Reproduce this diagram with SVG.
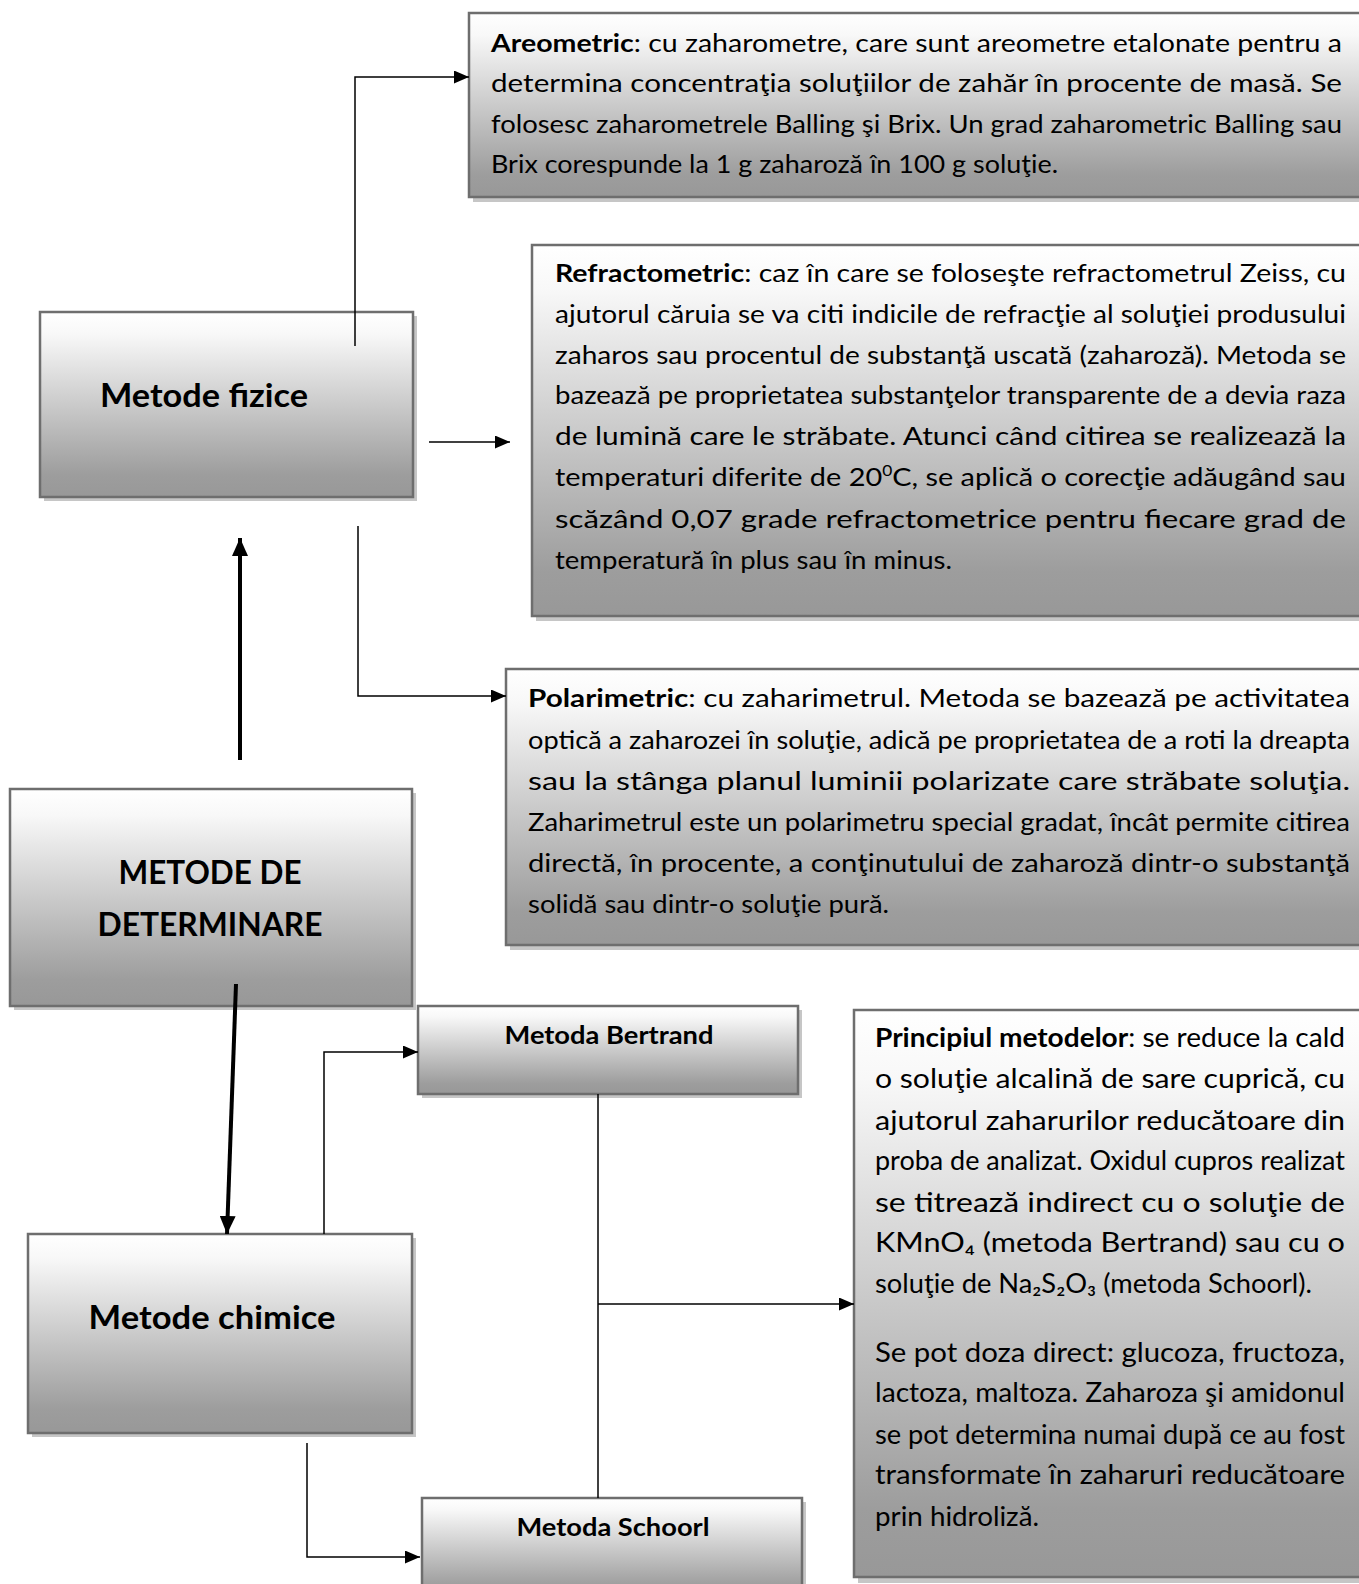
<svg xmlns="http://www.w3.org/2000/svg" width="1359" height="1584" viewBox="0 0 1359 1584">
<defs>
<linearGradient id="g" x1="0" y1="0" x2="0" y2="1">
<stop offset="0" stop-color="#ffffff"/>
<stop offset="0.12" stop-color="#f8f8f8"/>
<stop offset="0.88" stop-color="#9d9d9d"/>
<stop offset="1" stop-color="#989898"/>
</linearGradient>
<marker id="a" viewBox="0 0 15 13" refX="15" refY="6.5" markerWidth="15" markerHeight="13" markerUnits="userSpaceOnUse" orient="auto">
<path d="M0,0 L15,6.5 L0,13 z" fill="#000"/>
</marker>
<marker id="ab" viewBox="0 0 18 16" refX="18" refY="8" markerWidth="18" markerHeight="16" markerUnits="userSpaceOnUse" orient="auto">
<path d="M0,0 L18,8 L0,16 z" fill="#000"/>
</marker>
</defs>
<style>
.sh{fill:#c6c6c6}
.bx{fill:url(#g);stroke:#6e6e6e;stroke-width:2.5}
.t{font-family:Lato,"Open Sans","Liberation Sans",sans-serif;font-size:25px;fill:#000}
.p{font-family:Lato,"Open Sans","Liberation Sans",sans-serif;font-size:26px;fill:#000}
.h{font-family:Lato,"Open Sans","Liberation Sans",sans-serif;font-weight:bold;fill:#000;text-anchor:middle}
.b{font-weight:bold}
.c{fill:none;stroke:#000;stroke-width:1.5}
.ct{fill:none;stroke:#000;stroke-width:4}
</style>
<rect width="1359" height="1584" fill="#fff"/>

<g id="areometric">
<rect class="sh" x="473" y="18" width="896" height="184"/>
<rect class="bx" x="469" y="13" width="896" height="184"/>
<text class="t" x="491" y="52" textLength="851" lengthAdjust="spacingAndGlyphs"><tspan class="b">Areometric</tspan>: cu zaharometre, care sunt areometre etalonate pentru a</text>
<text class="t" x="491" y="92" textLength="851" lengthAdjust="spacingAndGlyphs">determina concentraţia  soluţiilor de zahăr în procente de masă. Se</text>
<text class="t" x="491" y="133" textLength="851" lengthAdjust="spacingAndGlyphs">folosesc zaharometrele Balling şi Brix. Un grad zaharometric  Balling sau</text>
<text class="t" x="491" y="173" textLength="567" lengthAdjust="spacingAndGlyphs">Brix corespunde la 1 g zaharoză în 100 g soluţie.</text>
</g>

<g id="refractometric">
<rect class="sh" x="536" y="250" width="833" height="371"/>
<rect class="bx" x="532" y="245" width="833" height="371"/>
<text class="t" x="555" y="282" textLength="791" lengthAdjust="spacingAndGlyphs"><tspan class="b">Refractometric</tspan>: caz în care se foloseşte refractometrul Zeiss, cu</text>
<text class="t" x="555" y="323" textLength="791" lengthAdjust="spacingAndGlyphs">ajutorul căruia se va citi indicile de refracţie al soluţiei produsului</text>
<text class="t" x="555" y="364" textLength="791" lengthAdjust="spacingAndGlyphs">zaharos sau procentul de substanţă uscată (zaharoză). Metoda se</text>
<text class="t" x="555" y="404" textLength="791" lengthAdjust="spacingAndGlyphs">bazează pe proprietatea substanţelor transparente de a devia raza</text>
<text class="t" x="555" y="445" textLength="791" lengthAdjust="spacingAndGlyphs">de lumină care le străbate. Atunci când citirea se realizează la</text>
<text class="t" x="555" y="486" textLength="791" lengthAdjust="spacingAndGlyphs">temperaturi diferite de 20<tspan font-size="15" dy="-10">0</tspan><tspan dy="10">C, se aplică o corecţie adăugând sau</tspan></text>
<text class="t" x="555" y="528" textLength="791" lengthAdjust="spacingAndGlyphs">scăzând 0,07 grade refractometrice pentru fiecare grad de</text>
<text class="t" x="555" y="569" textLength="397" lengthAdjust="spacingAndGlyphs">temperatură în plus sau în minus.</text>
</g>

<g id="polarimetric">
<rect class="sh" x="510" y="674" width="859" height="276"/>
<rect class="bx" x="506" y="669" width="859" height="276"/>
<text class="t" x="528" y="707" textLength="822" lengthAdjust="spacingAndGlyphs"><tspan class="b">Polarimetric</tspan>: cu zaharimetrul. Metoda se bazează pe activitatea</text>
<text class="t" x="528" y="749" textLength="822" lengthAdjust="spacingAndGlyphs">optică a zaharozei în soluţie, adică pe proprietatea de a roti la dreapta</text>
<text class="t" x="528" y="790" textLength="822" lengthAdjust="spacingAndGlyphs">sau la stânga planul luminii polarizate care străbate soluţia.</text>
<text class="t" x="528" y="831" textLength="822" lengthAdjust="spacingAndGlyphs">Zaharimetrul este un polarimetru special gradat, încât permite citirea</text>
<text class="t" x="528" y="872" textLength="822" lengthAdjust="spacingAndGlyphs">directă, în procente, a conţinutului de zaharoză dintr-o substanţă</text>
<text class="t" x="528" y="913" textLength="361" lengthAdjust="spacingAndGlyphs">solidă sau dintr-o soluţie pură.</text>
</g>

<g id="metode-fizice">
<rect class="sh" x="44" y="316" width="373" height="185"/>
<rect class="bx" x="40" y="312" width="373" height="185"/>
<text class="h" x="204" y="407" font-size="32" textLength="208" lengthAdjust="spacingAndGlyphs">Metode fizice</text>
</g>

<g id="metode-determinare">
<rect class="sh" x="14" y="793" width="402" height="217"/>
<rect class="bx" x="10" y="789" width="402" height="217"/>
<text class="h" x="210" y="884" font-size="32" textLength="183" lengthAdjust="spacingAndGlyphs">METODE DE</text>
<text class="h" x="210" y="936" font-size="32" textLength="225" lengthAdjust="spacingAndGlyphs">DETERMINARE</text>
</g>

<g id="metode-chimice">
<rect class="sh" x="32" y="1238" width="384" height="199"/>
<rect class="bx" x="28" y="1234" width="384" height="199"/>
<text class="h" x="212" y="1329" font-size="32" textLength="247" lengthAdjust="spacingAndGlyphs">Metode chimice</text>
</g>

<g id="metoda-bertrand">
<rect class="sh" x="422" y="1010" width="380" height="88"/>
<rect class="bx" x="418" y="1006" width="380" height="88"/>
<text class="h" x="609" y="1044" font-size="25" textLength="209" lengthAdjust="spacingAndGlyphs">Metoda Bertrand</text>
</g>

<g id="metoda-schoorl">
<rect class="sh" x="426" y="1502" width="380" height="100"/>
<rect class="bx" x="422" y="1498" width="380" height="100"/>
<text class="h" x="613" y="1536" font-size="25" textLength="193" lengthAdjust="spacingAndGlyphs">Metoda Schoorl</text>
</g>

<g id="principiul">
<rect class="sh" x="858" y="1015" width="511" height="568"/>
<rect class="bx" x="854" y="1010" width="511" height="567"/>
<text class="p" x="875" y="1047" textLength="470" lengthAdjust="spacingAndGlyphs"><tspan class="b">Principiul metodelor</tspan>: se reduce la cald</text>
<text class="p" x="875" y="1088" textLength="470" lengthAdjust="spacingAndGlyphs">o soluţie alcalină de sare cuprică, cu</text>
<text class="p" x="875" y="1130" textLength="470" lengthAdjust="spacingAndGlyphs">ajutorul zaharurilor reducătoare din</text>
<text class="p" x="875" y="1170" textLength="470" lengthAdjust="spacingAndGlyphs">proba de analizat. Oxidul cupros realizat</text>
<text class="p" x="875" y="1212" textLength="470" lengthAdjust="spacingAndGlyphs">se titrează indirect cu o soluţie de</text>
<text class="p" x="875" y="1252" textLength="470" lengthAdjust="spacingAndGlyphs">KMnO₄ (metoda Bertrand) sau cu o</text>
<text class="p" x="875" y="1293" textLength="437" lengthAdjust="spacingAndGlyphs">soluţie de Na₂S₂O₃ (metoda Schoorl).</text>
<text class="p" x="875" y="1362" textLength="470" lengthAdjust="spacingAndGlyphs">Se pot doza direct: glucoza, fructoza,</text>
<text class="p" x="875" y="1402" textLength="470" lengthAdjust="spacingAndGlyphs">lactoza, maltoza. Zaharoza şi amidonul</text>
<text class="p" x="875" y="1444" textLength="470" lengthAdjust="spacingAndGlyphs">se pot determina numai după ce au fost</text>
<text class="p" x="875" y="1484" textLength="470" lengthAdjust="spacingAndGlyphs">transformate în zaharuri reducătoare</text>
<text class="p" x="875" y="1526" textLength="164" lengthAdjust="spacingAndGlyphs">prin hidroliză.</text>
</g>

<g id="connectors">
<polyline class="c" points="355,346 355,77 469,77" marker-end="url(#a)"/>
<line class="c" x1="429" y1="442" x2="510" y2="442" marker-end="url(#a)"/>
<polyline class="c" points="358,526 358,696 506,696" marker-end="url(#a)"/>
<line class="ct" x1="240" y1="760" x2="240" y2="538" marker-end="url(#ab)"/>
<line class="ct" x1="236" y1="984" x2="227" y2="1234" marker-end="url(#ab)"/>
<polyline class="c" points="324,1234 324,1052 418,1052" marker-end="url(#a)"/>
<polyline class="c" points="307,1443 307,1557 420,1557" marker-end="url(#a)"/>
<line class="c" x1="598" y1="1094" x2="598" y2="1498"/>
<line class="c" x1="598" y1="1304" x2="854" y2="1304" marker-end="url(#a)"/>
</g>
</svg>
